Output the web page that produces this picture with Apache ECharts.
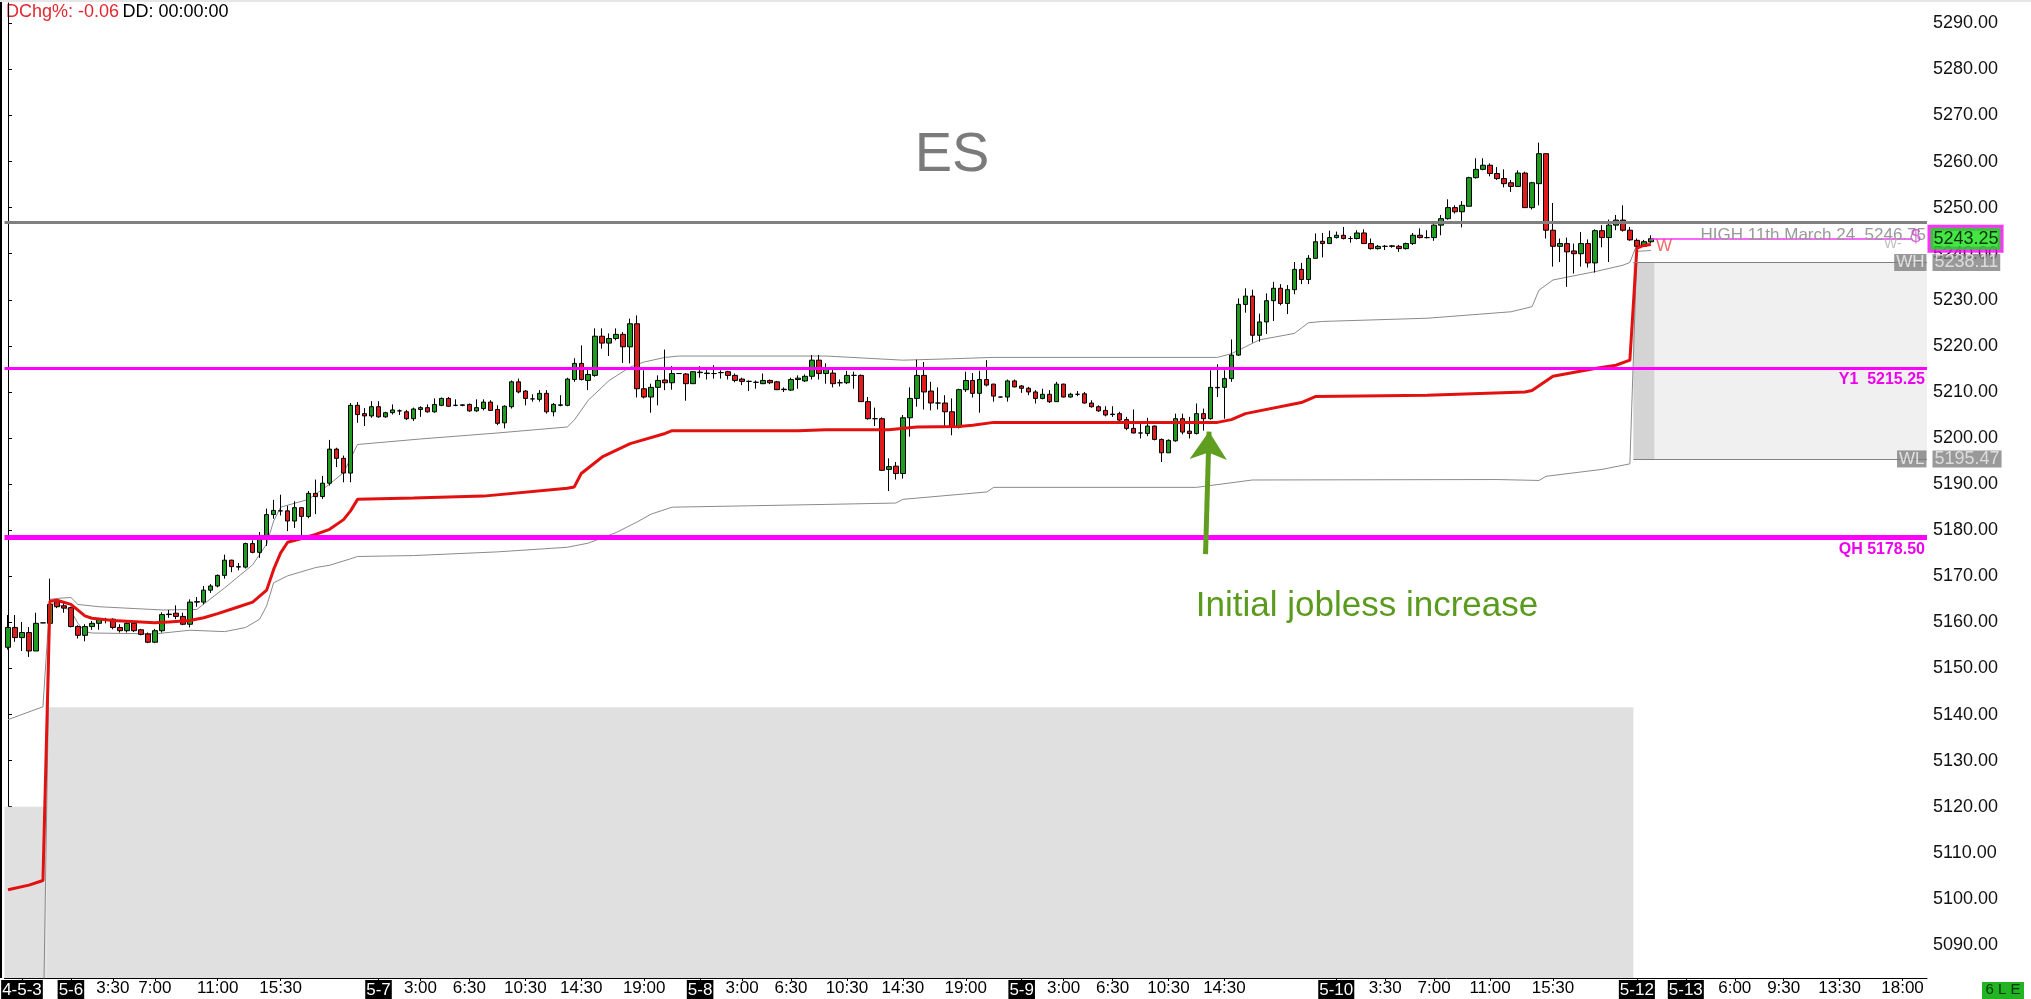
<!DOCTYPE html>
<html><head><meta charset="utf-8">
<script src="https://cdn.jsdelivr.net/npm/echarts@6/dist/echarts.min.js"></script>
<style>html,body{margin:0;padding:0;background:#fff;}#c{width:2031px;height:999px;}</style>
</head><body><div id="c"></div><script>
// ---- data: 30-min bars, [open, close, low, high] ----
const candles = [
[5154.6,5158.9,5154.1,5161.6],[5158.9,5156.7,5155.8,5161.6],[5156.7,5157.8,5153.8,5160.1],[5157.8,5153.8,5152.5,5159.0],
[5153.8,5159.8,5153.8,5162.1],[5159.9,5159.9,5159.9,5159.9],[5159.8,5163.9,5159.8,5169.5],[5164.5,5163.4,5163.1,5164.8],
[5163.6,5163.1,5162.1,5164.4],[5163.2,5159.1,5158.9,5163.4],[5159.1,5157.2,5156.5,5159.4],[5157.2,5159.1,5155.9,5159.6],
[5159.1,5159.8,5158.4,5160.3],[5159.8,5160.7,5158.4,5161.0],[5160.5,5160.6,5159.8,5161.0],[5160.7,5158.9,5158.5,5160.9],
[5158.9,5158.2,5157.8,5159.6],[5158.2,5159.8,5157.8,5160.1],[5159.8,5158.2,5157.9,5160.1],[5158.4,5157.4,5157.2,5158.6],
[5157.5,5155.7,5155.5,5157.8],[5155.7,5158.2,5155.5,5158.6],[5158.2,5161.7,5157.8,5162.2],[5161.7,5161.8,5161.0,5162.7],
[5162.0,5161.3,5160.7,5163.7],[5161.3,5159.6,5159.4,5162.1],[5159.6,5164.4,5158.9,5165.0],[5164.4,5164.5,5163.4,5165.5],
[5164.4,5167.0,5163.9,5167.9],[5167.0,5167.9,5166.4,5168.3],[5167.9,5170.2,5167.6,5170.4],[5170.2,5173.5,5169.5,5174.7],
[5173.5,5172.1,5170.9,5173.6],[5172.1,5172.0,5171.3,5172.9],[5172.0,5177.1,5171.7,5177.3],[5177.1,5175.2,5175.0,5177.8],
[5175.2,5178.2,5174.0,5179.6],[5178.2,5183.4,5176.6,5184.7],[5183.4,5184.3,5182.5,5186.6],[5184.2,5184.2,5183.2,5187.7],
[5184.2,5182.0,5179.8,5185.3],[5182.0,5184.9,5180.5,5186.3],[5184.9,5183.0,5178.4,5185.0],[5183.0,5188.0,5182.6,5188.5],
[5188.0,5187.3,5183.5,5191.0],[5187.3,5190.2,5186.8,5191.8],[5190.2,5197.6,5189.7,5199.6],[5197.6,5195.6,5193.7,5197.9],
[5195.6,5192.4,5190.4,5196.2],[5192.4,5207.1,5190.4,5207.6],[5207.1,5205.1,5203.3,5207.8],[5205.3,5204.8,5202.6,5206.5],
[5204.8,5206.8,5204.4,5208.0],[5206.8,5204.6,5204.4,5208.0],[5204.6,5205.5,5204.4,5205.7],[5205.5,5206.1,5205.1,5207.3],
[5205.9,5205.9,5205.0,5206.2],[5205.7,5204.2,5203.9,5206.1],[5204.2,5206.3,5203.7,5206.6],[5206.2,5206.6,5204.6,5206.9],
[5206.6,5205.7,5205.5,5207.3],[5205.7,5207.3,5205.5,5208.6],[5207.1,5208.6,5206.9,5208.8],[5208.6,5206.9,5206.8,5208.9],
[5207.1,5207.1,5206.9,5208.4],[5207.2,5207.1,5206.9,5207.3],[5207.3,5205.9,5205.7,5207.5],[5205.9,5206.6,5205.7,5208.4],
[5206.4,5207.8,5206.0,5208.4],[5207.8,5206.0,5205.9,5208.2],[5206.2,5203.2,5202.8,5207.1],[5203.3,5206.9,5202.1,5207.1],
[5206.8,5212.2,5206.4,5212.5],[5212.2,5210.0,5209.7,5212.9],[5210.2,5208.6,5207.1,5210.4],[5208.5,5208.5,5207.9,5209.5],
[5208.4,5209.7,5207.9,5210.4],[5209.7,5205.7,5205.3,5210.4],[5205.7,5207.3,5204.7,5207.6],[5207.1,5207.2,5206.9,5209.3],
[5207.1,5212.8,5206.9,5213.1],[5212.7,5216.2,5212.2,5217.3],[5216.2,5212.7,5212.5,5220.1],[5212.5,5213.8,5210.4,5215.4],
[5213.6,5222.1,5213.3,5223.8],[5222.1,5220.6,5219.4,5223.8],[5220.6,5221.6,5217.8,5222.7],[5221.6,5222.5,5221.2,5223.8],
[5222.5,5219.8,5216.3,5223.0],[5219.8,5224.8,5216.2,5225.9],[5224.8,5210.7,5208.8,5226.6],[5210.7,5208.9,5208.6,5214.7],
[5208.9,5211.0,5205.5,5211.8],[5211.0,5212.5,5207.1,5213.6],[5212.6,5212.0,5210.4,5219.2],[5212.0,5214.0,5210.5,5215.6],
[5214.0,5214.0,5213.9,5214.1],[5213.9,5211.8,5208.1,5214.1],[5211.8,5214.4,5211.8,5214.4],[5214.3,5214.2,5213.1,5215.6],
[5214.1,5214.0,5212.7,5215.1],[5214.0,5214.0,5212.9,5215.8],[5214.2,5214.2,5212.9,5214.7],[5214.4,5213.6,5212.7,5214.6],
[5213.6,5212.5,5212.1,5214.0],[5212.8,5212.3,5211.5,5213.1],[5212.3,5212.3,5210.2,5212.5],[5212.1,5212.1,5210.7,5212.5],
[5211.8,5212.5,5211.7,5214.0],[5212.5,5212.0,5211.7,5212.7],[5212.2,5210.5,5210.4,5212.4],[5210.6,5210.5,5210.0,5211.0],
[5210.4,5212.7,5210.2,5213.1],[5212.7,5213.0,5210.7,5213.6],[5212.4,5213.4,5212.2,5213.8],[5213.4,5216.9,5212.7,5218.0],
[5216.9,5214.0,5212.7,5218.0],[5214.0,5215.1,5211.8,5216.2],[5214.1,5211.8,5211.0,5215.4],[5212.0,5212.0,5211.2,5212.7],
[5212.0,5213.6,5211.7,5214.6],[5213.6,5213.6,5210.7,5214.4],[5213.6,5207.9,5207.9,5213.8],[5207.9,5204.2,5204.0,5208.9],
[5204.2,5204.2,5202.6,5206.6],[5204.2,5193.0,5192.9,5204.5],[5193.2,5193.8,5188.5,5195.6],[5193.9,5192.3,5191.0,5194.8],
[5192.3,5204.4,5191.2,5205.0],[5204.4,5208.6,5200.3,5211.0],[5208.6,5213.6,5206.8,5217.0],[5213.6,5210.0,5206.2,5216.5],
[5210.2,5207.6,5206.0,5212.2],[5207.6,5207.6,5206.2,5211.0],[5207.6,5205.7,5202.4,5209.3],[5205.7,5202.4,5200.6,5208.6],
[5202.4,5210.5,5202.1,5210.7],[5210.5,5212.5,5210.0,5214.4],[5212.5,5209.7,5208.8,5214.1],[5209.7,5212.7,5205.5,5214.6],
[5212.7,5211.5,5211.2,5216.9],[5211.7,5209.1,5207.9,5211.8],[5208.9,5208.9,5208.8,5209.0],[5208.9,5212.4,5207.9,5212.7],
[5212.4,5211.1,5211.0,5212.7],[5211.3,5210.8,5209.8,5211.5],[5210.8,5210.0,5209.3,5211.1],[5210.0,5208.6,5207.5,5210.4],
[5208.6,5209.5,5208.4,5210.7],[5209.5,5207.9,5207.6,5210.4],[5207.9,5211.7,5207.9,5212.2],[5211.7,5208.9,5208.8,5211.8],
[5208.9,5209.5,5208.8,5209.8],[5209.5,5209.5,5209.1,5210.2],[5209.6,5207.6,5207.5,5210.0],[5207.6,5206.8,5206.6,5208.2],
[5206.8,5205.9,5205.7,5207.1],[5206.0,5205.0,5204.7,5206.9],[5205.2,5205.1,5204.6,5206.9],[5205.3,5203.9,5203.5,5205.7],
[5204.0,5202.1,5201.7,5204.6],[5202.1,5201.1,5201.0,5206.2],[5201.1,5201.1,5199.9,5203.3],[5201.0,5202.6,5200.4,5204.4],
[5202.6,5199.7,5199.5,5202.7],[5199.7,5196.8,5194.8,5199.9],[5196.8,5199.5,5196.8,5199.7],[5199.4,5204.2,5199.2,5205.3],
[5204.2,5201.3,5200.8,5205.3],[5201.5,5201.0,5199.9,5204.6],[5201.0,5205.3,5200.8,5207.5],[5205.3,5204.2,5201.6,5206.4],
[5204.2,5211.0,5204.0,5214.7],[5210.9,5211.0,5208.9,5216.0],[5211.0,5212.9,5204.2,5214.7],[5212.9,5218.0,5212.2,5221.4],
[5218.0,5229.0,5217.8,5230.3],[5229.0,5230.8,5227.2,5232.5],[5230.8,5222.3,5220.7,5232.2],[5222.3,5225.2,5220.9,5227.0],
[5225.2,5229.8,5222.6,5231.4],[5229.8,5232.5,5225.4,5233.9],[5232.5,5229.2,5228.8,5233.4],[5229.2,5232.2,5226.9,5233.2],
[5232.2,5236.6,5231.2,5238.2],[5236.6,5234.4,5233.4,5238.0],[5234.4,5239.0,5233.4,5239.7],[5239.0,5242.6,5239.0,5244.4],
[5242.7,5242.2,5239.2,5244.5],[5242.2,5243.5,5242.1,5245.0],[5243.5,5244.0,5243.3,5244.8],[5244.0,5243.3,5243.1,5245.8],
[5243.3,5243.3,5242.4,5243.8],[5243.3,5244.5,5243.1,5245.1],[5244.5,5242.2,5242.1,5245.3],[5242.2,5241.1,5240.9,5243.3],
[5241.1,5241.6,5240.9,5241.9],[5241.6,5241.6,5240.8,5241.9],[5241.7,5241.6,5241.3,5241.9],[5241.6,5241.1,5240.4,5241.9],
[5241.1,5242.2,5240.9,5242.4],[5242.2,5244.0,5241.9,5244.5],[5244.0,5243.5,5243.3,5245.5],[5243.5,5243.5,5243.3,5245.1],
[5243.5,5246.2,5242.8,5246.4],[5246.2,5247.6,5244.0,5248.4],[5247.6,5250.0,5247.4,5251.8],[5250.0,5249.1,5248.7,5250.5],
[5249.1,5250.5,5245.7,5251.4],[5250.3,5256.5,5250.3,5256.7],[5256.5,5258.3,5256.3,5260.7],[5258.3,5259.2,5258.1,5260.7],
[5259.2,5257.4,5256.8,5259.6],[5257.4,5256.3,5256.0,5258.8],[5256.3,5255.2,5254.4,5258.3],[5255.4,5254.6,5253.4,5256.0],
[5254.6,5257.5,5254.5,5258.1],[5257.5,5250.0,5250.0,5257.8],[5250.0,5255.4,5249.6,5255.6],[5255.2,5261.7,5250.5,5264.1],
[5261.7,5245.1,5243.3,5261.7],[5245.1,5241.6,5237.2,5251.0],[5241.6,5242.2,5238.2,5243.3],[5242.2,5240.4,5232.8,5243.5],
[5240.6,5240.0,5235.7,5242.2],[5240.0,5242.2,5237.2,5244.7],[5242.2,5238.0,5237.0,5243.1],[5238.0,5245.0,5235.9,5245.3],
[5245.0,5243.5,5241.4,5246.2],[5243.5,5246.2,5238.2,5247.4],[5246.2,5247.3,5245.1,5248.4],[5247.3,5245.1,5244.8,5250.5],
[5245.1,5243.0,5242.8,5245.8],[5242.9,5241.6,5241.5,5243.3],[5241.6,5242.6,5241.5,5243.0],[5242.6,5243.25,5242.3,5244.0]
];
// VWAP and its bands, as [bar index, price] vertices
const vwap = [[0,5102.0],[3,5103.0],[5,5104.0],[6,5164.6],[7,5164.8],[9,5163.9],[11,5161.4],[12,5160.9],[15,5160.4],[21,5159.9],[23,5160.1],[26,5160.4],[28,5161.0],[30,5161.9],[33,5163.4],[35,5164.4],[37,5167.0],[38,5171.5],[39,5175.1],[40,5177.4],[42,5178.2],[44,5179.1],[46,5180.2],[48,5182.3],[49,5184.2],[50,5186.7],[58,5187.0],[68,5187.4],[80,5189.1],[81,5189.4],[82,5192.3],[85,5195.9],[89,5198.8],[94,5201.0],[95,5201.6],[113,5201.6],[117,5201.8],[126,5201.8],[130,5202.4],[136,5202.5],[138,5202.8],[141,5203.4],[173,5203.4],[175,5204.0],[177,5205.3],[185,5207.7],[187,5209.0],[203,5209.3],[217,5210.0],[218,5210.3],[221,5213.4],[227,5215.1],[230,5215.8],[232,5216.9],[233,5241.2],[234,5241.8],[235,5242.0]];
const upperBand = [[0,5138.9],[5,5141.7],[6,5165.0],[7,5165.2],[9,5165.4],[10,5163.9],[13,5163.4],[22,5162.7],[27,5162.8],[31,5167.5],[35,5172.5],[37,5177.0],[38,5182.0],[39,5185.0],[43,5186.7],[46,5190.0],[48,5192.5],[50,5198.6],[59,5199.8],[70,5201.1],[80,5202.4],[81,5203.9],[83,5208.2],[86,5212.5],[89,5215.4],[91,5216.5],[94,5217.5],[96,5217.8],[117,5217.8],[128,5216.9],[135,5217.2],[141,5217.5],[173,5217.5],[175,5218.3],[177,5219.8],[179,5221.3],[184,5222.7],[186,5225.0],[188,5225.3],[203,5226.0],[215,5227.4],[218,5228.5],[219,5232.1],[221,5234.3],[227,5236.1],[231,5237.5],[232,5238.1],[233,5242.0],[235,5242.4]];
const lowerBand = [[0,5066.0],[5,5068.0],[6,5164.0],[7,5164.0],[9,5162.5],[10,5159.8],[11,5158.0],[12,5157.7],[21,5157.5],[26,5158.3],[31,5158.0],[34,5158.9],[36,5160.7],[37,5163.6],[38,5168.6],[40,5170.1],[44,5171.9],[46,5172.4],[49,5173.8],[50,5174.3],[58,5174.5],[70,5175.3],[80,5176.3],[83,5177.2],[87,5179.5],[90,5181.8],[92,5183.5],[95,5185.0],[117,5185.6],[127,5185.9],[128,5186.7],[140,5188.3],[141,5189.3],[170,5189.3],[178,5190.9],[213,5191.0],[219,5190.8],[220,5191.7],[228,5193.2],[232,5194.4],[233,5240.5],[235,5240.7]];

const xTickBars = [2,9,15,21,30,39,53,59,66,74,82,91,99,105,112,120,128,137,145,151,158,166,174,190,197,204,212,221,233,240,247,254,262,271];
const xTickLabels = ['4-5-3','5-6','3:30','7:00','11:00','15:30','5-7','3:00','6:30','10:30','14:30','19:00','5-8','3:00','6:30','10:30','14:30','19:00','5-9','3:00','6:30','10:30','14:30','5-10','3:30','7:00','11:00','15:30','5-12','5-13','6:00','9:30','13:30','18:00'];
const yTickValues = [5090,5100,5110,5120,5130,5140,5150,5160,5170,5180,5190,5200,5210,5220,5230,5240,5250,5260,5270,5280,5290];

const totalBars = 275;
const yMin = 5082.84, yMax = 5294.4;
const highMarch = 5246.75, y1Level = 5215.25, qhLevel = 5178.50;
const weekHigh = 5238.11, weekLow = 5195.47, lastPrice = 5243.25;
const prevWeekTop = 5141.6, olderTop = 5120.0;
const sessionBar = 6, newWeekBar = 233, lastBar = 235;
const arrowFrom = [171.3, 5174.8], arrowTo = [171.8, 5201.4];

// ---- chart ----
const FONT = "'Liberation Sans', Arial, sans-serif";
const cats = Array.from({length: totalBars}, (_, i) => String(i));
const tickMap = new Map(xTickBars.map((b, i) => [b, xTickLabels[i]]));
const chart = echarts.init(document.getElementById('c'), null, {renderer: 'canvas'});
const labelBox = (txt, pos, extra) => Object.assign({show: true, position: pos, formatter: txt, fontFamily: FONT}, extra);

chart.setOption({
  animation: false,
  backgroundColor: '#ffffff',
  textStyle: {fontFamily: FONT},
  grid: {left: 4.5, right: 104, top: 3, bottom: 21, outerBoundsMode: 'none', containLabel: false},
  xAxis: [{
    type: 'category', data: cats, boundaryGap: true,
    axisLine: {show: true, lineStyle: {color: '#000', width: 1}},
    axisTick: {show: true, alignWithLabel: true, length: 3, lineStyle: {color: '#000'}, interval: (i) => tickMap.has(i)},
    axisLabel: {
      show: true, interval: (i) => tickMap.has(i), margin: 2, fontSize: 17, color: '#000', fontFamily: FONT,
      formatter: (v, i) => { const t = tickMap.get(Number(v)); if (!t) return ''; return t.indexOf('-') >= 0 ? '{d|' + t + '}' : '{t|' + t + '}'; },
      rich: {d: {color: '#fff', backgroundColor: '#000', fontSize: 17, padding: [2, 1, 0, 1], fontFamily: FONT}, t: {color: '#000', fontSize: 17, fontFamily: FONT}}
    },
    splitLine: {show: false}
  }, {
    type: 'value', min: -0.5, max: totalBars - 0.5, show: false, splitLine: {show: false}
  }],
  yAxis: {
    type: 'value', position: 'right', min: yMin, max: yMax, scale: true,
    axisLine: {show: true, lineStyle: {color: '#000', width: 1}},
    axisTick: {show: true, length: 4, inside: false, lineStyle: {color: '#000'}, customValues: yTickValues},
    axisLabel: {show: true, customValues: yTickValues, margin: 6, fontSize: 18, color: '#111', fontFamily: FONT, formatter: (v) => Number(v).toFixed(2)},
    splitLine: {show: false}
  },
  graphic: [
    {type: 'rect', shape: {x: 0, y: 0, width: 2031, height: 2}, style: {fill: '#e6e6e6'}, silent: true},
    {type: 'rect', shape: {x: 0, y: 2, width: 2, height: 976}, style: {fill: '#000'}, silent: true},
    {type: 'text', x: 6, y: 3, silent: true, style: {text: '{r|DChg%: -0.06} {k|DD: 00:00:00}', rich: {r: {fill: '#e3262f', fontSize: 18, fontFamily: FONT}, k: {fill: '#000', fontSize: 18, fontFamily: FONT}}}},
    {type: 'text', x: 952, y: 156, silent: true, style: {text: 'ES', fill: '#7b7b7b', fontSize: 56, fontFamily: FONT, align: 'center', verticalAlign: 'middle'}},
    {type: 'text', x: 1367, y: 606, silent: true, style: {text: 'Initial jobless increase', fill: '#5a9a1c', fontSize: 35, fontFamily: FONT, align: 'center', verticalAlign: 'middle'}},
    {type: 'rect', shape: {x: 1982, y: 982, width: 42, height: 17}, style: {fill: '#22b422'}, silent: true},
    {type: 'text', x: 2003, y: 990, silent: true, style: {text: '6 L E', fill: '#063806', fontSize: 15, fontFamily: FONT, align: 'center', verticalAlign: 'middle'}}
  ],
  series: [
    {
      name: 'upper', type: 'line', xAxisIndex: 1, data: upperBand, showSymbol: false, symbol: 'none', z: 2, silent: true,
      lineStyle: {color: '#8a8a8a', width: 1},
      markArea: {
        silent: true, z: 1,
        data: [
          [{xAxis: -0.5, yAxis: yMin, itemStyle: {color: '#e0e0e0'}}, {xAxis: sessionBar - 0.5, yAxis: olderTop}],
          [{xAxis: sessionBar - 0.5, yAxis: yMin, itemStyle: {color: '#e0e0e0'}}, {xAxis: newWeekBar - 0.5, yAxis: prevWeekTop}],
          [{xAxis: newWeekBar - 0.5, yAxis: weekLow, itemStyle: {color: '#f0f0f0'}}, {xAxis: totalBars - 0.5, yAxis: weekHigh}],
          [{xAxis: newWeekBar - 0.5, yAxis: weekLow, itemStyle: {color: '#d4d4d4'}}, {xAxis: lastBar + 0.5, yAxis: weekHigh}]
        ]
      }
    },
    {name: 'lower', type: 'line', xAxisIndex: 1, data: lowerBand, showSymbol: false, symbol: 'none', z: 2, silent: true, lineStyle: {color: '#8a8a8a', width: 1}},
    {
      name: 'ES', type: 'candlestick', xAxisIndex: 0, data: candles, barWidth: 5, z: 3, silent: true,
      itemStyle: {color: '#1f9c1f', color0: '#e01c1c', borderColor: '#000', borderColor0: '#000', borderColorDoji: '#000', borderWidth: 1}
    },
    {
      name: 'vwap', type: 'line', xAxisIndex: 1, data: vwap, showSymbol: false, symbol: 'none', z: 4, silent: true,
      lineStyle: {color: '#e31010', width: 3},
      markLine: {
        silent: true, symbol: ['none', 'none'], animation: false, z: 5,
        label: {show: false},
        data: [
          {yAxis: highMarch, lineStyle: {color: '#808080', width: 3, type: 'solid'},
           label: {show: true, position: 'insideEndBottom', distance: [1, 4], formatter: 'HIGH 11th March 24  ' + highMarch.toFixed(2), color: '#999', fontSize: 17, fontFamily: FONT}},
          {yAxis: y1Level, lineStyle: {color: '#ff00ff', width: 3, type: 'solid'},
           label: {show: true, position: 'insideEndBottom', distance: [2, 4], formatter: 'Y1  ' + y1Level.toFixed(2), color: '#ee00ee', fontSize: 16, fontWeight: 'bold', fontFamily: FONT}},
          {yAxis: qhLevel, lineStyle: {color: '#ff00ff', width: 5, type: 'solid'},
           label: {show: true, position: 'insideEndBottom', distance: [2, 4], formatter: 'QH ' + qhLevel.toFixed(2), color: '#ee00ee', fontSize: 16, fontWeight: 'bold', fontFamily: FONT}},
          [{coord: [newWeekBar - 0.5, weekHigh], lineStyle: {color: '#808080', width: 1, type: 'solid'}}, {coord: [totalBars - 0.5, weekHigh]}],
          [{coord: [newWeekBar - 0.5, weekLow], lineStyle: {color: '#808080', width: 1, type: 'solid'}}, {coord: [totalBars - 0.5, weekLow]}],
          [{coord: [lastBar, lastPrice], lineStyle: {color: '#ff33ff', width: 1.5, type: 'solid'}}, {coord: [272.2, lastPrice]}],
          [{coord: arrowFrom, symbol: 'none', lineStyle: {color: '#5f9e1e', width: 5, type: 'solid'}},
           {coord: arrowTo, symbol: 'arrow', symbolSize: 28, itemStyle: {color: '#5f9e1e'}}]
        ]
      }
    },
    {
      name: 'tags', type: 'scatter', xAxisIndex: 1, symbolSize: 1, itemStyle: {color: 'rgba(0,0,0,0)'}, z: 6, silent: true, clip: false,
      data: [
        {value: [totalBars - 0.5, lastPrice], label: labelBox(lastPrice.toFixed(2), 'right', {distance: 3, backgroundColor: '#14e014', borderColor: '#ff00ff', borderWidth: 3, padding: [3, 2, 1, 3], color: '#000', fontSize: 18})},
        {value: [totalBars - 0.5, weekHigh], label: labelBox(weekHigh.toFixed(2), 'right', {distance: 5, backgroundColor: '#808080', padding: [1, 2, 0, 2], color: '#ececec', fontSize: 18, lineHeight: 16})},
        {value: [totalBars - 0.5, weekHigh], label: labelBox('WH', 'left', {distance: 0, backgroundColor: '#808080', padding: [1, 2, 0, 2], color: '#f4f4f4', fontSize: 17, lineHeight: 16})},
        {value: [totalBars - 0.5, weekLow], label: labelBox(weekLow.toFixed(2), 'right', {distance: 5, backgroundColor: '#808080', padding: [1, 2, 0, 2], color: '#ececec', fontSize: 18, lineHeight: 16})},
        {value: [totalBars - 0.5, weekLow], label: labelBox('WL', 'left', {distance: 0, backgroundColor: '#808080', padding: [1, 2, 0, 2], color: '#f4f4f4', fontSize: 17, lineHeight: 16})},
        {value: [272.9, 5243.6], label: labelBox('$', 'inside', {color: '#d040d0', fontSize: 18})},
        {value: [236.9, 5241.7], label: labelBox('W', 'inside', {color: '#f04545', fontSize: 17})},
        {value: [269.6, 5242.0], label: labelBox('W-', 'inside', {color: '#b0b0b0', fontSize: 14})}
      ]
    }
  ]
});
</script></body></html>
